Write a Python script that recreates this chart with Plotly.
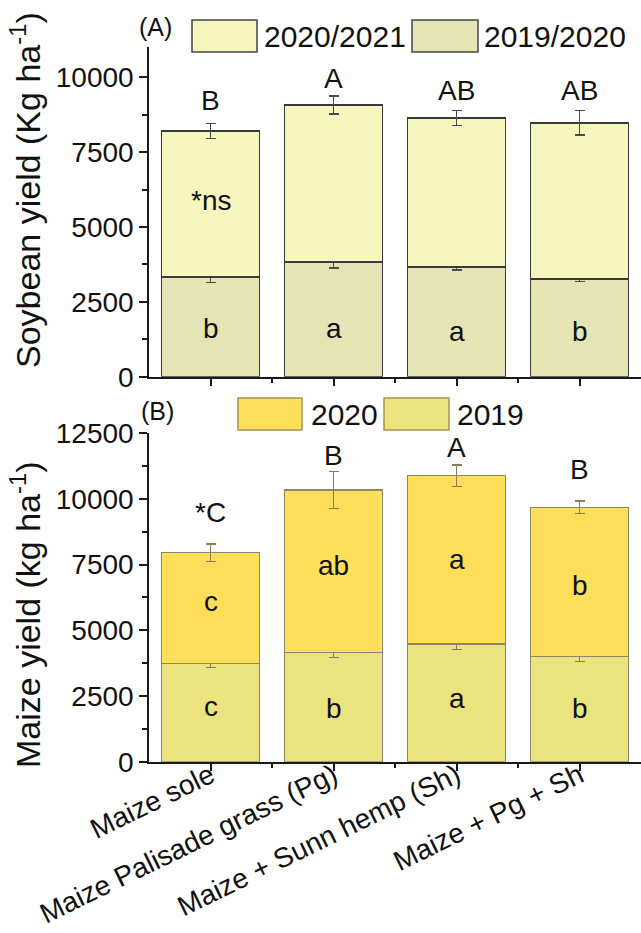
import plotly.graph_objects as go

# ---- data -------------------------------------------------------------
treatments = ["Maize sole", "Maize Palisade grass (Pg)",
              "Maize + Sunn hemp (Sh)", "Maize + Pg + Sh"]

# Soybean yield (kg/ha), stacked by season
soy_2019_2020 = [3330, 3830, 3665, 3265]
soy_2019_2020_se = [175, 200, 95, 95]
soy_2020_2021 = [4880, 5250, 4975, 5215]
soy_2020_2021_se = [250, 300, 255, 405]

# Maize yield (kg/ha), stacked by season
maize_2019 = [3745, 4165, 4480, 4010]
maize_2019_se = [150, 210, 205, 195]
maize_2020 = [4210, 6175, 6405, 5670]
maize_2020_se = [325, 715, 405, 240]

# mean-separation letters
soy_total_letters = ["B", "A", "AB", "AB"]
soy_2019_letters = ["b", "a", "a", "b"]
maize_total_letters = ["*C", "B", "A", "B"]
maize_2020_letters = ["c", "ab", "a", "b"]
maize_2019_letters = ["c", "b", "a", "b"]

# ---- layout helpers ---------------------------------------------------
W, H = 641, 933
FONT = "Liberation Sans, Arial, Helvetica, sans-serif"
FS = 28


def px(x):
    return x / W


def py(y):
    return 1 - y / H


# vertical placement of the letter labels (kg/ha level of the text centre)
soy_total_lvl = [9240, 9960, 9550, 9550]
soy_2019_lvl = [1610, 1620, 1510, 1510]
soy_ns_lvl = 5900
maize_total_lvl = [9500, 11670, 11970, 11100]
maize_2020_lvl = [6110, 7450, 7710, 6720]
maize_2019_lvl = [2090, 2040, 2390, 2040]

xs = list(range(len(treatments)))

SOY_TOP, SOY_BOT = "#F6F6BE", "#E5E4B4"
MZ_TOP, MZ_BOT = "#FFDE59", "#EBE37E"

fig = go.Figure()

# panel A: soybean
fig.add_trace(go.Bar(
    x=xs, y=soy_2019_2020, name="2019/2020", width=0.8,
    marker=dict(color=SOY_BOT, line=dict(color="#3a3a3a", width=1.5)),
    error_y=dict(type="data", array=soy_2019_2020_se, color="#4a4a4a",
                 thickness=1.4, width=5),
    xaxis="x", yaxis="y", showlegend=False))
fig.add_trace(go.Bar(
    x=xs, y=soy_2020_2021, name="2020/2021", width=0.8,
    marker=dict(color=SOY_TOP, line=dict(color="#3a3a3a", width=1.5)),
    error_y=dict(type="data", array=soy_2020_2021_se, color="#4a4a4a",
                 thickness=1.4, width=5),
    xaxis="x", yaxis="y", showlegend=False))

# panel B: maize
fig.add_trace(go.Bar(
    x=xs, y=maize_2019, name="2019", width=0.8,
    marker=dict(color=MZ_BOT, line=dict(color="#8f8665", width=1.2)),
    error_y=dict(type="data", array=maize_2019_se, color="#857d5c",
                 thickness=1.3, width=5),
    xaxis="x2", yaxis="y2", showlegend=False))
fig.add_trace(go.Bar(
    x=xs, y=maize_2020, name="2020", width=0.8,
    marker=dict(color=MZ_TOP, line=dict(color="#8f8665", width=1.2)),
    error_y=dict(type="data", array=maize_2020_se, color="#857d5c",
                 thickness=1.3, width=5),
    xaxis="x2", yaxis="y2", showlegend=False))

axis_common = dict(
    showline=True, linecolor="#1a1a1a", linewidth=1.5,
    ticks="outside", ticklen=8, tickwidth=1.5, tickcolor="#1a1a1a",
    showgrid=False, zeroline=False, automargin=False,
    tickfont=dict(family=FONT, size=FS, color="#111"),
)
minor_common = dict(ticks="outside", ticklen=5, tickwidth=1.5,
                    tickcolor="#1a1a1a", showgrid=False)

x_dom = [px(149), 1]
xb_axis = dict(axis_common)
xb_axis["tickfont"] = dict(family=FONT, size=28, color="#111")

fig.update_layout(
    width=W, height=H,
    margin=dict(l=0, r=0, t=0, b=0, autoexpand=False),
    paper_bgcolor="white", plot_bgcolor="white",
    barmode="stack",
    font=dict(family=FONT, size=FS, color="#111"),
    xaxis=dict(domain=x_dom, anchor="y", range=[-0.5, 3.5],
               tickmode="array", tickvals=xs, showticklabels=False,
               minor=dict(tickmode="array",
                          tickvals=[v + 0.5 for v in xs[:-1]],
                          **minor_common),
               **axis_common),
    yaxis=dict(domain=[py(376.7), py(47.4)], anchor="x", range=[0, 11000],
               tickmode="array", tickvals=[0, 2500, 5000, 7500, 10000],
               tickformat="d",
               minor=dict(tickmode="array",
                          tickvals=[1250, 3750, 6250, 8750],
                          **minor_common),
               **axis_common),
    xaxis2=dict(domain=x_dom, anchor="y2", range=[-0.5, 3.5],
                tickmode="array", tickvals=xs, ticktext=treatments,
                tickangle=-26, ticklabelstandoff=-23,
                minor=dict(tickmode="array",
                           tickvals=[v + 0.5 for v in xs[:-1]],
                           **minor_common),
                **xb_axis),
    yaxis2=dict(domain=[py(761.7), py(433.2)], anchor="x2", range=[0, 12500],
                tickmode="array",
                tickvals=[0, 2500, 5000, 7500, 10000, 12500],
                tickformat="d",
                minor=dict(tickmode="array",
                           tickvals=[1250, 3750, 6250, 8750, 11250],
                           **minor_common),
                **axis_common),
)

ann = []


def label(text, x, y, xref, yref, size=28, **kw):
    ann.append(dict(text=text, x=x, y=y, xref=xref, yref=yref,
                    xanchor="center", yanchor="middle",
                    showarrow=False, font=dict(family=FONT, size=size,
                                               color="#111"), **kw))


# letters on the bars
for i in xs:
    label(soy_total_letters[i], i, soy_total_lvl[i], "x", "y")
    label(soy_2019_letters[i], i, soy_2019_lvl[i], "x", "y")
    label(maize_total_letters[i], i, maize_total_lvl[i], "x2", "y2")
    label(maize_2020_letters[i], i, maize_2020_lvl[i], "x2", "y2")
    label(maize_2019_letters[i], i, maize_2019_lvl[i], "x2", "y2")
label("*ns", 0, soy_ns_lvl, "x", "y")

# panel tags
label("(A)", px(155), py(27), "paper", "paper", size=25)
label("(B)", px(157), py(411), "paper", "paper", size=25)

# axis titles
label("Soybean yield (Kg ha<sup>-1</sup>)", px(25), py(190), "paper", "paper",
      size=34, textangle=-90)
label("Maize yield (kg ha<sup>-1</sup>)", px(25), py(615), "paper", "paper",
      size=34, textangle=-90)

# legends drawn as swatch + text
shapes = []


def legend_item(x0, x1, y0, y1, fill, edge, text, tx):
    shapes.append(dict(type="rect", xref="paper", yref="paper",
                       x0=px(x0), x1=px(x1), y0=py(y1), y1=py(y0),
                       fillcolor=fill, line=dict(color=edge, width=1.5)))
    ann.append(dict(text=text, x=px(tx), y=py((y0 + y1) / 2), xref="paper",
                    yref="paper", xanchor="left", yanchor="middle",
                    showarrow=False,
                    font=dict(family=FONT, size=30, color="#111")))


legend_item(192, 257, 20, 52, SOY_TOP, "#444444", "2020/2021", 262)
legend_item(412, 478, 20, 52, SOY_BOT, "#444444", "2019/2020", 482)
legend_item(238, 302, 398, 430, MZ_TOP, "#a59450", "2020", 309)
legend_item(384, 449, 398, 430, MZ_BOT, "#a59450", "2019", 455)

fig.update_layout(annotations=ann, shapes=shapes)

fig.write_html("out.html")
